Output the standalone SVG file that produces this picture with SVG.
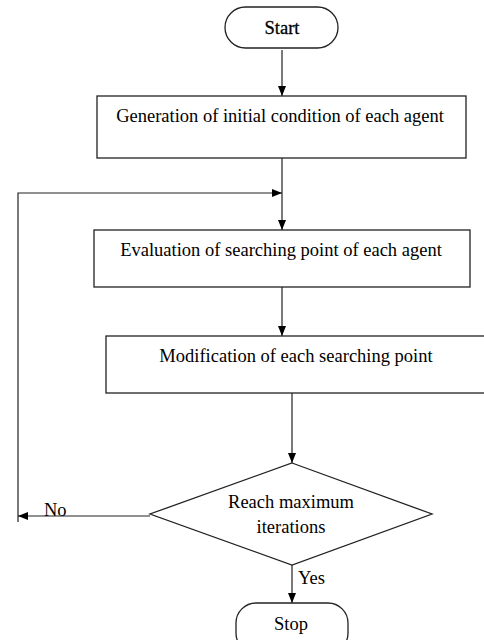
<svg xmlns="http://www.w3.org/2000/svg" width="484" height="640" viewBox="0 0 484 640">
<style>
.shape{fill:#fff;stroke:#222;stroke-width:1.3}
.conn{fill:none;stroke:#222;stroke-width:1.2}
text{font-family:"Liberation Serif","Times New Roman",serif;font-size:18.5px;fill:#000}
.c{text-anchor:middle}
</style>
<defs>
<marker id="ah" markerWidth="10" markerHeight="10" refX="10" refY="5" orient="auto" markerUnits="userSpaceOnUse" viewBox="0 0 10 10">
<path d="M0,1 L10,5 L0,9 Z" fill="#000"/>
</marker>
</defs>
<rect width="484" height="640" fill="#fff"/>
<g id="connectors">
<line class="conn" x1="282" y1="50" x2="282" y2="96" marker-end="url(#ah)"/>
<line class="conn" x1="282" y1="158" x2="282" y2="230" marker-end="url(#ah)"/>
<polyline class="conn" points="18,522 18,193 282,193" marker-end="url(#ah)"/>
<line class="conn" x1="282" y1="287" x2="282" y2="336" marker-end="url(#ah)"/>
<line class="conn" x1="292" y1="393" x2="292" y2="463" marker-end="url(#ah)"/>
<line class="conn" x1="150" y1="516" x2="18" y2="516" marker-end="url(#ah)"/>
<line class="conn" x1="292" y1="565" x2="292" y2="603" marker-end="url(#ah)"/>
<text x="44" y="516">No</text>
<text x="298" y="584">Yes</text>
</g>
<g id="start">
<rect class="shape" x="225" y="7" width="113" height="41" rx="20.5"/>
<text class="c" x="282" y="34" stroke="#000" stroke-width="0.3">Start</text>
</g>
<g id="init">
<rect class="shape" x="97" y="96" width="369" height="62"/>
<text class="c" x="280" y="122">Generation of initial condition of each agent</text>
</g>
<g id="eval">
<rect class="shape" x="94" y="230" width="376" height="57"/>
<text class="c" x="281" y="256">Evaluation of searching point of each agent</text>
</g>
<g id="modify">
<rect class="shape" x="106" y="336" width="392" height="57"/>
<text class="c" x="296" y="362">Modification of each searching point</text>
</g>
<g id="decision">
<polygon class="shape" points="292,463 432,514 292,565 150,514"/>
<text class="c" x="291" y="508">Reach maximum</text>
<text class="c" x="291" y="533">iterations</text>
</g>
<g id="stop">
<rect class="shape" x="236" y="603" width="112" height="50" rx="20"/>
<text class="c" x="291" y="630">Stop</text>
</g>
</svg>
